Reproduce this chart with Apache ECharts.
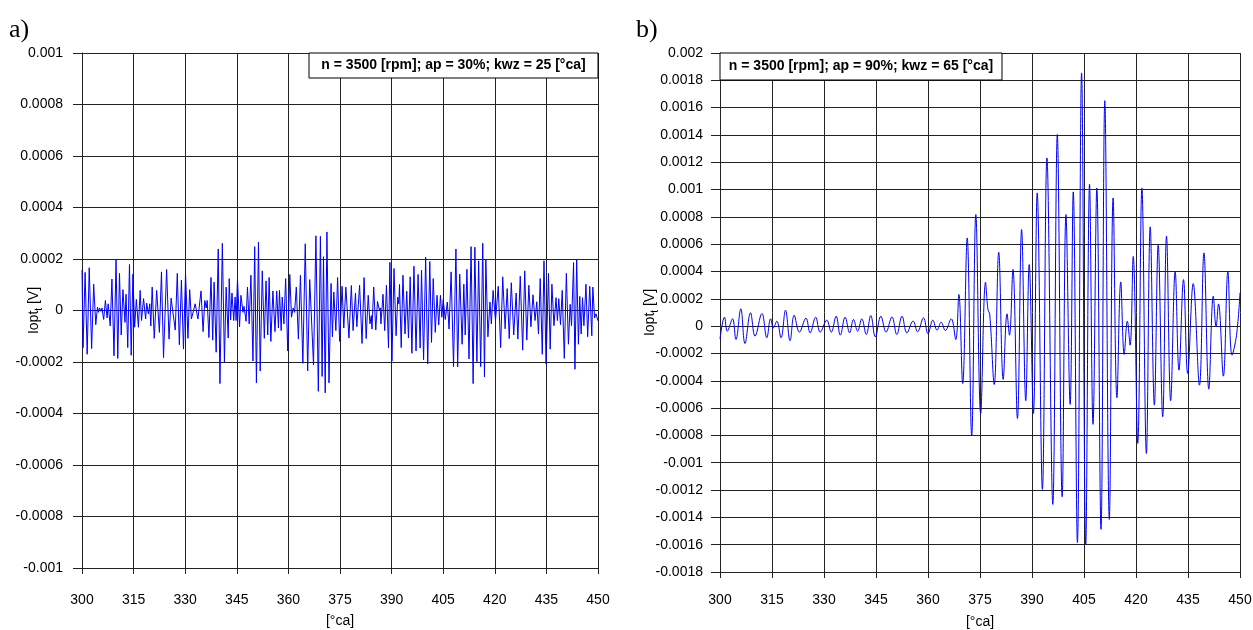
<!DOCTYPE html>
<html>
<head>
<meta charset="utf-8">
<script src="https://cdn.jsdelivr.net/npm/echarts@6/dist/echarts.min.js"></script>
<style>html,body{margin:0;padding:0;background:#fff}#c{width:1253px;height:630px}</style>
</head>
<body>
<div id="c"></div>
<script>
// ---- data (values in units of 1e-4 V) ----
const xTicks = [300, 315, 330, 345, 360, 375, 390, 405, 420, 435, 450];
const VALUE_UNIT = 1e-4;

const leftDeg = [300.0,300.3,300.9,301.5,302.1,302.8,303.4,304.0,304.5,304.8,305.1,305.5,305.8,306.3,306.8,307.3,307.6,308.2,308.7,309.3,309.9,310.4,310.9,311.4,311.9,312.5,312.8,313.3,313.8,314.3,314.8,315.3,315.8,316.4,316.9,317.3,317.9,318.5,318.8,319.3,319.7,320.0,320.4,321.0,321.7,322.5,323.1,323.7,324.6,325.3,325.9,327.1,327.7,328.3,328.9,329.5,330.1,330.8,331.3,331.8,332.9,333.7,334.6,335.2,335.7,336.1,336.4,336.9,337.5,338.0,338.4,339.0,339.6,340.1,340.8,341.4,341.9,342.5,342.8,343.2,343.6,344.1,344.5,344.8,345.2,345.8,346.2,346.8,347.1,347.7,348.1,348.6,349.1,349.7,350.2,350.7,351.3,351.8,352.4,353.0,353.5,354.0,354.4,354.9,355.5,356.1,356.6,357.1,357.4,357.9,358.2,358.7,359.2,359.8,360.4,360.9,361.4,361.8,362.3,362.9,363.5,364.2,364.9,365.6,366.2,366.6,367.3,368.0,368.7,369.3,369.8,370.2,370.7,371.2,371.8,372.4,372.8,373.2,373.8,374.3,374.9,375.6,376.1,376.7,377.6,378.3,378.8,379.5,379.9,380.7,381.4,382.0,382.6,383.2,383.7,384.1,384.3,384.8,385.4,385.9,386.5,386.7,386.9,387.5,388.0,388.5,389.1,389.5,390.1,390.7,391.3,391.8,392.1,392.3,392.8,393.3,393.9,394.4,394.9,395.4,395.9,396.5,397.1,397.7,398.3,398.7,399.3,399.9,400.5,401.1,401.6,402.1,402.7,403.2,403.7,404.2,404.6,405.0,405.6,406.2,406.7,407.3,408.0,408.7,409.2,409.8,410.5,411.0,411.4,411.9,412.5,413.1,413.7,414.2,414.8,415.3,415.9,416.5,417.0,417.4,418.0,418.6,419.0,419.5,420.2,421.0,421.7,422.3,423.0,423.6,424.2,424.8,425.5,426.2,426.7,427.4,428.1,428.7,429.3,429.9,430.5,431.1,431.7,432.2,432.7,433.2,433.8,434.3,434.9,435.6,436.1,436.6,437.2,437.8,438.2,438.6,439.1,439.6,440.2,440.8,441.4,441.9,442.3,442.9,443.3,443.8,444.3,444.7,445.1,445.5,445.9,446.5,447.0,447.6,448.2,448.5,449.0,449.4,450.0];
const leftVal = [1.57,-1.44,1.48,-1.70,1.66,-1.48,1.02,-0.55,0.13,-0.07,0.10,-0.03,0.10,-0.35,0.39,-0.29,0.26,-0.60,1.22,-1.76,1.96,-1.86,1.44,-0.95,0.81,-0.46,0.63,-1.44,1.79,-1.74,1.41,-0.65,0.43,-0.65,0.78,-0.39,0.46,-0.33,0.29,-0.13,0.26,-0.60,0.91,-1.08,0.78,-0.85,1.50,-1.83,1.59,-1.11,0.48,-0.76,1.44,-1.33,1.18,-1.50,1.44,-1.08,0.81,-0.33,0.26,-0.33,0.76,-0.82,0.39,0.10,0.39,-1.05,1.28,-1.15,1.10,-1.62,2.39,-2.84,2.61,-2.00,0.91,-1.07,1.24,-0.37,0.68,-0.39,0.52,-0.39,1.24,-0.63,0.59,-0.07,0.16,-0.42,0.91,-0.52,1.37,-1.96,2.48,-2.81,2.65,-2.35,1.54,-1.08,1.15,-0.95,1.28,-1.20,0.76,-0.82,0.76,-0.68,0.78,-0.78,0.52,-0.52,1.24,-1.57,1.40,-0.26,0.10,-0.07,0.91,-1.11,1.37,-2.05,2.59,-2.35,1.20,0.03,-2.12,2.90,-3.14,2.88,-2.56,2.09,-3.20,3.05,-2.81,1.05,-1.02,0.72,-0.78,1.28,-1.20,0.94,-0.68,0.91,-1.07,0.97,-0.78,0.68,-0.63,0.98,-1.28,1.28,-1.09,0.59,-0.52,-0.20,-0.72,0.91,-0.76,0.35,0.00,0.10,-0.52,0.63,-0.78,0.98,-1.46,1.87,-1.96,1.63,-0.98,0.52,0.26,1.01,-1.44,1.37,-0.91,0.75,-1.07,1.31,-1.66,1.72,-1.57,1.40,-1.46,1.57,-1.91,2.07,-2.07,1.90,-1.24,1.24,-0.85,0.59,-0.56,0.59,-0.26,0.43,-0.35,0.33,-0.72,1.50,-2.18,2.39,-2.19,1.41,-1.31,1.02,-0.95,1.60,-1.88,2.48,-2.84,2.46,-1.99,1.93,-2.18,2.61,-2.58,1.96,-1.02,0.33,-0.52,0.78,-0.39,0.94,-1.44,1.31,-0.71,0.85,-1.09,1.08,-0.95,0.68,-1.11,1.33,-1.54,1.54,-1.15,0.98,-0.63,0.61,-0.39,0.34,-0.91,1.24,-1.70,1.93,-2.07,1.44,-1.50,1.02,-0.59,0.50,-0.39,0.46,-0.55,0.78,-1.86,1.44,-1.31,0.24,-0.59,1.86,-2.28,1.99,-1.31,0.55,-0.91,0.50,-0.59,1.02,-1.02,0.94,-0.98,0.91,-0.29,-0.13,-0.40];

const rightDeg = [300.0,301.3,302.1,303.6,304.6,306.0,307.2,308.8,310.1,312.1,313.5,314.6,315.4,316.4,317.6,318.9,320.2,321.4,322.9,324.8,326.0,327.6,328.9,330.8,332.1,333.5,334.7,336.1,337.4,338.5,339.7,340.9,342.2,343.5,344.8,346.4,347.9,349.6,351.0,352.5,353.9,355.7,357.0,358.7,360.0,361.4,362.6,363.8,365.0,366.7,368.0,368.9,370.0,371.3,372.6,373.8,375.2,376.6,377.3,377.8,379.1,380.4,381.7,382.8,383.5,384.5,385.8,387.0,388.2,389.2,390.4,391.5,393.0,394.3,396.0,397.3,398.7,399.8,401.0,401.9,403.1,404.3,405.5,406.6,407.6,408.7,409.9,411.0,412.3,413.4,414.5,415.6,416.6,417.5,418.3,419.2,420.5,421.7,423.0,424.1,425.3,426.4,427.7,428.8,430.0,431.3,432.4,433.7,434.9,436.5,438.3,439.6,441.0,442.3,443.1,443.8,445.2,446.5,447.7,449.0,450.0];
const rightVal = [-0.93,0.66,-0.37,0.54,-0.98,1.27,-1.27,0.98,-0.73,0.93,-0.85,0.54,-0.12,0.37,-0.85,1.17,-1.07,0.80,-0.44,0.59,-0.49,0.66,-0.44,0.44,-0.44,0.73,-0.66,0.66,-0.49,0.49,-0.37,0.54,-0.61,0.78,-0.78,0.73,-0.44,0.68,-0.61,0.73,-0.49,0.37,-0.41,0.61,-0.56,0.44,-0.29,0.29,-0.32,0.54,-0.98,2.32,-4.20,6.46,-8.02,8.17,-6.39,3.22,1.20,0.90,-4.27,5.42,-3.90,0.90,-0.66,4.15,-6.76,7.07,-5.46,4.51,-6.39,9.76,-11.95,12.32,-13.05,14.03,-12.49,8.17,-5.73,9.83,-15.85,18.54,-16.02,10.39,-7.19,10.12,-14.88,16.51,-14.15,9.39,-5.24,3.24,-2.07,0.37,-1.39,5.10,-8.58,10.12,-9.32,7.27,-5.78,5.93,-6.63,6.59,-5.46,4.00,-3.22,3.41,-3.46,3.12,-4.32,5.37,-4.61,2.20,-0.05,1.63,-3.66,3.98,-2.12,-0.66,2.44];

const leftTitle = 'n = 3500 [rpm]; ap = 30%; kwz = 25 [°ca]';
const rightTitle = 'n = 3500 [rpm]; ap = 90%; kwz = 65 [°ca]';

// ---- build ----
const FONT = 'Liberation Sans, Arial, sans-serif';
const pairs = (xs, ys) => xs.map((x, i) => [x, ys[i] * VALUE_UNIT]);
const fmtY = v => String(parseFloat(v.toFixed(4)));

function xAxis(gi, gap, margin) {
  return {
    type: 'value', gridIndex: gi, min: xTicks[0], max: xTicks[xTicks.length - 1], interval: 15,
    name: '[°ca]', nameLocation: 'middle', nameGap: gap, nameMoveOverlap: false,
    nameTextStyle: { fontSize: 14, color: '#000', fontFamily: FONT },
    axisLine: { show: true, onZero: false, lineStyle: { color: '#222', width: 1 } },
    axisTick: { show: true, length: 6, lineStyle: { color: '#222' } },
    axisLabel: { fontSize: 14, color: '#000', fontFamily: FONT, margin: margin },
    splitLine: { show: true, lineStyle: { color: '#222', width: 1 } }
  };
}
function yAxis(gi, min, max, gap, margin) {
  return {
    type: 'value', gridIndex: gi, min: min, max: max, interval: 0.0002,
    name: '{a|Iopt}{s|t}{a| [V]}', nameLocation: 'middle', nameGap: gap, nameRotate: 90,
    nameMoveOverlap: false,
    nameTextStyle: { color: '#000', fontFamily: FONT,
      rich: { a: { fontSize: 14, lineHeight: 20, fontFamily: FONT, color: '#000' },
              s: { fontSize: 10, lineHeight: 12, verticalAlign: 'bottom', fontFamily: FONT, color: '#000' } } },
    axisLine: { show: true, onZero: false, lineStyle: { color: '#222', width: 1 } },
    axisTick: { show: true, length: 9, lineStyle: { color: '#222' } },
    axisLabel: { fontSize: 14, color: '#000', fontFamily: FONT, margin: margin, formatter: fmtY },
    splitLine: { show: true, lineStyle: { color: '#222', width: 1 } }
  };
}
function box(x, y, w, h, txt) {
  return [
    { type: 'rect', z: 100, shape: { x: x, y: y, width: w, height: h },
      style: { fill: '#fff', stroke: '#000', lineWidth: 1 } },
    { type: 'text', z: 101, x: x + w / 2, y: y + h / 2,
      style: { text: txt, fill: '#000', font: 'bold 14px ' + FONT, align: 'center', verticalAlign: 'middle' } }
  ];
}

const chart = echarts.init(document.getElementById('c'));
chart.setOption({
  animation: false,
  backgroundColor: '#fff',
  grid: [
    { left: 82, top: 53, width: 516, height: 515, containLabel: false, outerBoundsMode: 'none' },
    { left: 720, top: 53, width: 520, height: 519, containLabel: false, outerBoundsMode: 'none' }
  ],
  xAxis: [xAxis(0, 46, 25), xAxis(1, 43, 21)],
  yAxis: [yAxis(0, -0.001, 0.001, 38, 19), yAxis(1, -0.0018, 0.002, 60, 17)],
  series: [
    { type: 'line', xAxisIndex: 0, yAxisIndex: 0, data: pairs(leftDeg, leftVal), showSymbol: false,
      smooth: false, lineStyle: { color: '#0000ff', width: 1 }, z: 5 },
    { type: 'line', xAxisIndex: 1, yAxisIndex: 1, data: pairs(rightDeg, rightVal), showSymbol: false,
      smooth: 0.4, lineStyle: { color: '#0000ff', width: 1 }, z: 5 }
  ],
  graphic: [
    { type: 'text', x: 9, y: 30, style: { text: 'a)', fill: '#000', font: '26px Liberation Serif, Times New Roman, serif', verticalAlign: 'middle' } },
    { type: 'text', x: 636, y: 30, style: { text: 'b)', fill: '#000', font: '26px Liberation Serif, Times New Roman, serif', verticalAlign: 'middle' } },
    ...box(309, 53, 289, 25, leftTitle),
    ...box(720, 53, 282, 27, rightTitle)
  ]
});
</script>
</body>
</html>
